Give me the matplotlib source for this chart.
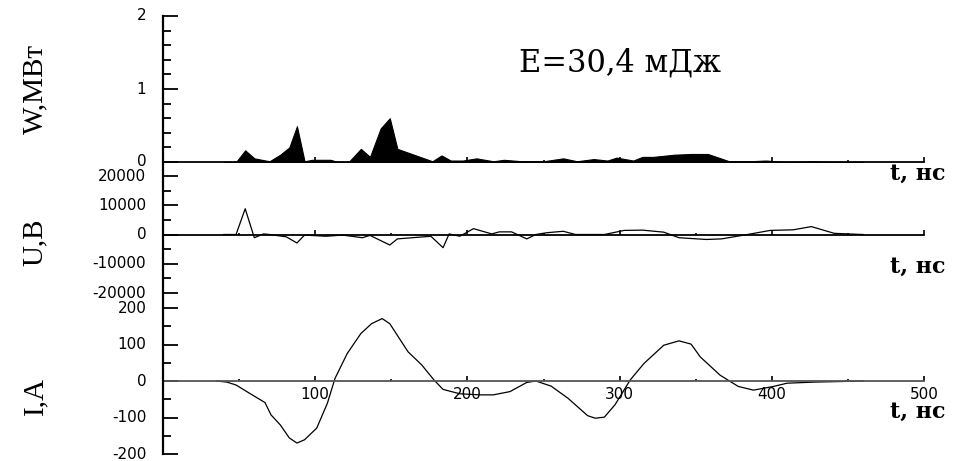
import matplotlib
matplotlib.use('Agg')
import matplotlib.pyplot as plt
from matplotlib.lines import Line2D
from matplotlib.ticker import MultipleLocator

plt.rcParams['axes.unicode_minus'] = False
plt.rcParams['font.family'] = ['DejaVu Sans']

# мощность W, МВт
t_w = [40, 48, 54, 60, 70, 77, 83, 88, 93, 98, 110, 115, 122, 130, 136, 143, 149, 154, 177, 183,
       189, 197, 206, 217, 224, 236, 250, 263, 272, 283, 292, 298, 309, 315, 322, 336, 347, 358, 372, 385,
       396, 410, 428, 440, 460]
w_mw = [0, 0, 0.16, 0.05, 0.01, 0.10, 0.20, 0.49, 0.01, 0.03, 0.03, 0, 0, 0.18, 0.07, 0.46, 0.60, 0.18, 0.01, 0.09,
        0.02, 0.02, 0.05, 0.01, 0.03, 0.01, 0.01, 0.05, 0.01, 0.04, 0.02, 0.06, 0.02, 0.07, 0.07, 0.10, 0.11, 0.11, 0.01, 0.01,
        0.02, 0, 0.01, 0, 0]

# напряжение U, В
t_u = [40, 48, 54, 60, 66, 70, 81, 88, 93, 107, 118, 131, 136, 149, 154, 176, 184, 188, 195, 204,
       216, 221, 229, 239, 245, 252, 263, 271, 290, 303, 315, 329, 339, 357, 367, 384, 399, 414, 426, 441,
       450, 460]
u_v = [0, 0, 8800, -1100, 200, 0, -800, -2900, -200, -600, -200, -1100, -300, -3600, -1500, -600, -4500, 200, -600, 2000,
       200, 900, 900, -1500, 0, 600, 1100, 0, 0, 1400, 1500, 800, -1100, -1700, -1500, 0, 1400, 1600, 2700, 400,
       200, 0]

# ток I, A
t_i = [35, 42, 48, 57, 67, 71, 77, 83, 88, 93, 101, 108, 113, 121, 130, 137, 144, 149, 161, 170,
       178, 184, 195, 208, 217, 228, 239, 245, 255, 266, 279, 284, 290, 297, 307, 316, 329, 339, 347, 353,
       366, 378, 388, 401, 410, 428, 450, 460]
i_a = [0, -3, -11, -34, -59, -93, -120, -156, -170, -161, -129, -61, 7, 75, 130, 157, 171, 157, 80, 44,
       3, -23, -35, -38, -38, -29, -4, 0, -14, -47, -95, -102, -99, -65, 3, 48, 98, 110, 101, 66,
       16, -15, -25, -15, -6, -3, -1, 0]

W, H = 957, 461
fig = plt.figure(figsize=(W / 100, H / 100), dpi=100)
x0, x1 = 163, 924


def box(top, bot):
    return [x0 / W, 1 - bot / H, (x1 - x0) / W, (bot - top) / H]


ax_w = fig.add_axes(box(16, 162))
ax_u = fig.add_axes(box(176, 293))
ax_i = fig.add_axes(box(308, 454))

for ax in (ax_w, ax_u, ax_i):
    ax.patch.set_alpha(0)
    for s in ('top', 'right', 'left'):
        ax.spines[s].set_visible(False)
    ax.spines['bottom'].set_position(('data', 0))
    ax.spines['bottom'].set_linewidth(1.3)
    ax.set_xlim(0, 500)
    ax.xaxis.set_major_locator(MultipleLocator(100))
    ax.xaxis.set_minor_locator(MultipleLocator(50))
    ax.tick_params(axis='x', which='major', direction='in', length=3.5, width=1.2, pad=4,
                   labelsize=11, labelbottom=False)
    ax.tick_params(axis='x', which='minor', direction='in', length=1.8, width=1.2)
    ax.tick_params(axis='y', which='major', direction='in', length=10.5, width=1.3, pad=12, labelsize=11)
    ax.tick_params(axis='y', which='minor', direction='in', length=5.5, width=1.3)

ax_i.tick_params(axis='x', labelbottom=True)
ax_i.spines['bottom'].set_color('#555555')

# W
ax_w.fill_between(t_w, w_mw, 0, color='black', lw=0.8)
ax_w.set_ylim(0, 2)
ax_w.yaxis.set_major_locator(MultipleLocator(1))
ax_w.yaxis.set_minor_locator(MultipleLocator(0.2))
ax_w.text(0.6, 0.68, 'E=30,4 мДж', transform=ax_w.transAxes, ha='center', va='center',
          fontsize=22, family='DejaVu Serif')

# U
ax_u.plot(t_u, u_v, color='black', lw=0.9)
ax_u.set_ylim(-20000, 20000)
ax_u.yaxis.set_major_locator(MultipleLocator(10000))
ax_u.yaxis.set_minor_locator(MultipleLocator(5000))

# I
ax_i.plot(t_i, i_a, color='black', lw=0.9)
ax_i.set_ylim(-200, 200)
ax_i.set_xticks([100, 200, 300, 400, 500])
ax_i.yaxis.set_major_locator(MultipleLocator(100))
ax_i.yaxis.set_minor_locator(MultipleLocator(50))

for ax in (ax_w, ax_u, ax_i):
    for lbl in ax.get_yticklabels():
        lbl.set_verticalalignment('center')

# подписи осей
for ax, lab, yc in ((ax_w, 'W,МВт', 0.5), (ax_u, 'U,В', 0.43), (ax_i, 'I,A', 0.40)):
    ax.text(-0.168, yc, lab, transform=ax.transAxes, rotation=90, ha='center', va='center',
            fontsize=21, family='Liberation Serif')

for yb in (180, 273, 418):
    fig.text(945 / W, 1 - yb / H, 't, нс', ha='right', va='baseline', fontsize=16,
             fontweight='bold', family='DejaVu Serif')

# общая вертикальная ось слева
fig.add_artist(Line2D([x0 / W, x0 / W], [1 - 16 / H, 1 - 454 / H], transform=fig.transFigure,
                      color='black', lw=1.6))

fig.savefig('out.png', dpi=100)
